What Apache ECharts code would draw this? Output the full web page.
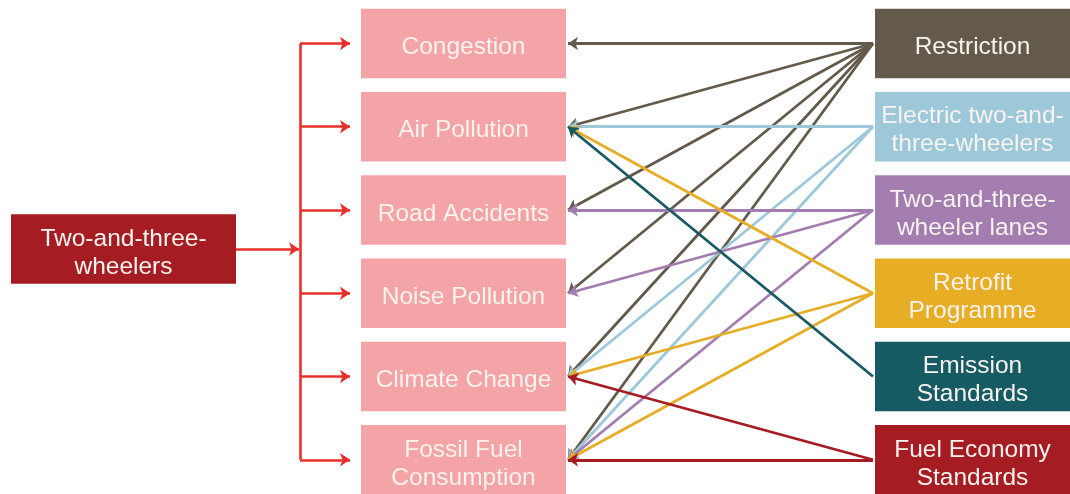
<!DOCTYPE html>
<html>
<head>
<meta charset="utf-8">
<script src="https://cdn.jsdelivr.net/npm/echarts@6/dist/echarts.min.js"></script>
<style>
  html, body { margin: 0; padding: 0; background: #fff; }
  #main { width: 1070px; height: 494px; }
</style>
</head>
<body>
<div id="main"></div>
<script>
// source box on the left
const source = "Two-and-three-\nwheelers";

// effects (middle column)
const effects = [
  "Congestion",
  "Air Pollution",
  "Road Accidents",
  "Noise Pollution",
  "Climate Change",
  "Fossil Fuel\nConsumption"
];

// policies (right column)
const policies = [
  "Restriction",
  "Electric two-and-\nthree-wheelers",
  "Two-and-three-\nwheeler lanes",
  "Retrofit\nProgramme",
  "Emission\nStandards",
  "Fuel Economy\nStandards"
];

// which effect each policy points to
const links = [
  ["Restriction", "Congestion"],
  ["Restriction", "Air Pollution"],
  ["Restriction", "Road Accidents"],
  ["Restriction", "Noise Pollution"],
  ["Restriction", "Climate Change"],
  ["Restriction", "Fossil Fuel\nConsumption"],
  ["Electric two-and-\nthree-wheelers", "Air Pollution"],
  ["Electric two-and-\nthree-wheelers", "Climate Change"],
  ["Electric two-and-\nthree-wheelers", "Fossil Fuel\nConsumption"],
  ["Two-and-three-\nwheeler lanes", "Road Accidents"],
  ["Two-and-three-\nwheeler lanes", "Noise Pollution"],
  ["Two-and-three-\nwheeler lanes", "Fossil Fuel\nConsumption"],
  ["Retrofit\nProgramme", "Air Pollution"],
  ["Retrofit\nProgramme", "Climate Change"],
  ["Retrofit\nProgramme", "Fossil Fuel\nConsumption"],
  ["Emission\nStandards", "Air Pollution"],
  ["Fuel Economy\nStandards", "Climate Change"],
  ["Fuel Economy\nStandards", "Fossil Fuel\nConsumption"]
];

// styles
const policyColors = ["#645a4b", "#9dc8da", "#a37cb0", "#e6ad25", "#165a63", "#a61c23"];
const effectColor = "#f4a3a6";
const sourceColor = "#a51c22";
const bracketColor = "#e8302a";
const textColor = "#f8f3ef";

// layout (x in px, y in row units)
const LEFT = [11, 236];
const MID = [361, 566];
const RIGHT = [875, 1070];
const SOURCE_ROW = 2.468;
const BOX_H = 0.835;
const BRACKET_X = 300;
const BRANCH_END = 350;
const LINK_START = 873;
const LINK_END = 568;

const boxes = [];
boxes.push({ value: [LEFT[0], LEFT[1], SOURCE_ROW], label: source, color: sourceColor });
effects.forEach((e, i) => boxes.push({ value: [MID[0], MID[1], i], label: e, color: effectColor }));
policies.forEach((p, i) => boxes.push({ value: [RIGHT[0], RIGHT[1], i], label: p, color: policyColors[i] }));

const linkData = links.map(([p, e]) => {
  const pi = policies.indexOf(p);
  return {
    coords: [[LINK_START, pi], [LINK_END, effects.indexOf(e)]],
    lineStyle: { color: policyColors[pi] }
  };
});

const bracketLines = [
  { coords: [[BRACKET_X, 0], [BRACKET_X, effects.length - 1]], symbol: ["none", "none"] },
  { coords: [[LEFT[1], SOURCE_ROW], [BRACKET_X - 1, SOURCE_ROW]] }
];
effects.forEach((e, i) => bracketLines.push({ coords: [[BRACKET_X, i], [BRANCH_END, i]] }));

const chart = echarts.init(document.getElementById("main"));
chart.setOption({
  animation: false,
  grid: { left: 0, right: 0, top: 0, bottom: 0 },
  xAxis: { type: "value", min: 0, max: 1070, show: false },
  yAxis: { type: "value", min: -0.5225, max: 5.4114, inverse: true, show: false },
  series: [
    {
      type: "custom",
      renderItem: function (params, api) {
        const item = boxes[params.dataIndex];
        const p0 = api.coord([api.value(0), api.value(2) - BOX_H / 2]);
        const p1 = api.coord([api.value(1), api.value(2) + BOX_H / 2]);
        return {
          type: "rect",
          shape: {
            x: p0[0],
            y: Math.min(p0[1], p1[1]),
            width: p1[0] - p0[0],
            height: Math.abs(p1[1] - p0[1])
          },
          style: { fill: item.color },
          textContent: {
            style: {
              text: item.label,
              fill: textColor,
              fontSize: 24.5,
              fontFamily: "Liberation Sans",
              lineHeight: 28,
              align: "center"
            }
          },
          textConfig: { position: "inside", offset: [0, 4] }
        };
      },
      data: boxes.map(b => b.value),
      z: 1
    },
    {
      type: "lines",
      coordinateSystem: "cartesian2d",
      symbol: ["none", "arrow"],
      symbolSize: 10,
      lineStyle: { width: 2.8, opacity: 1 },
      data: linkData,
      z: 3
    },
    {
      type: "lines",
      coordinateSystem: "cartesian2d",
      symbol: ["none", "arrow"],
      symbolSize: 10,
      lineStyle: { width: 2.6, opacity: 1, color: bracketColor },
      data: bracketLines,
      z: 3
    }
  ]
});
</script>
</body>
</html>
